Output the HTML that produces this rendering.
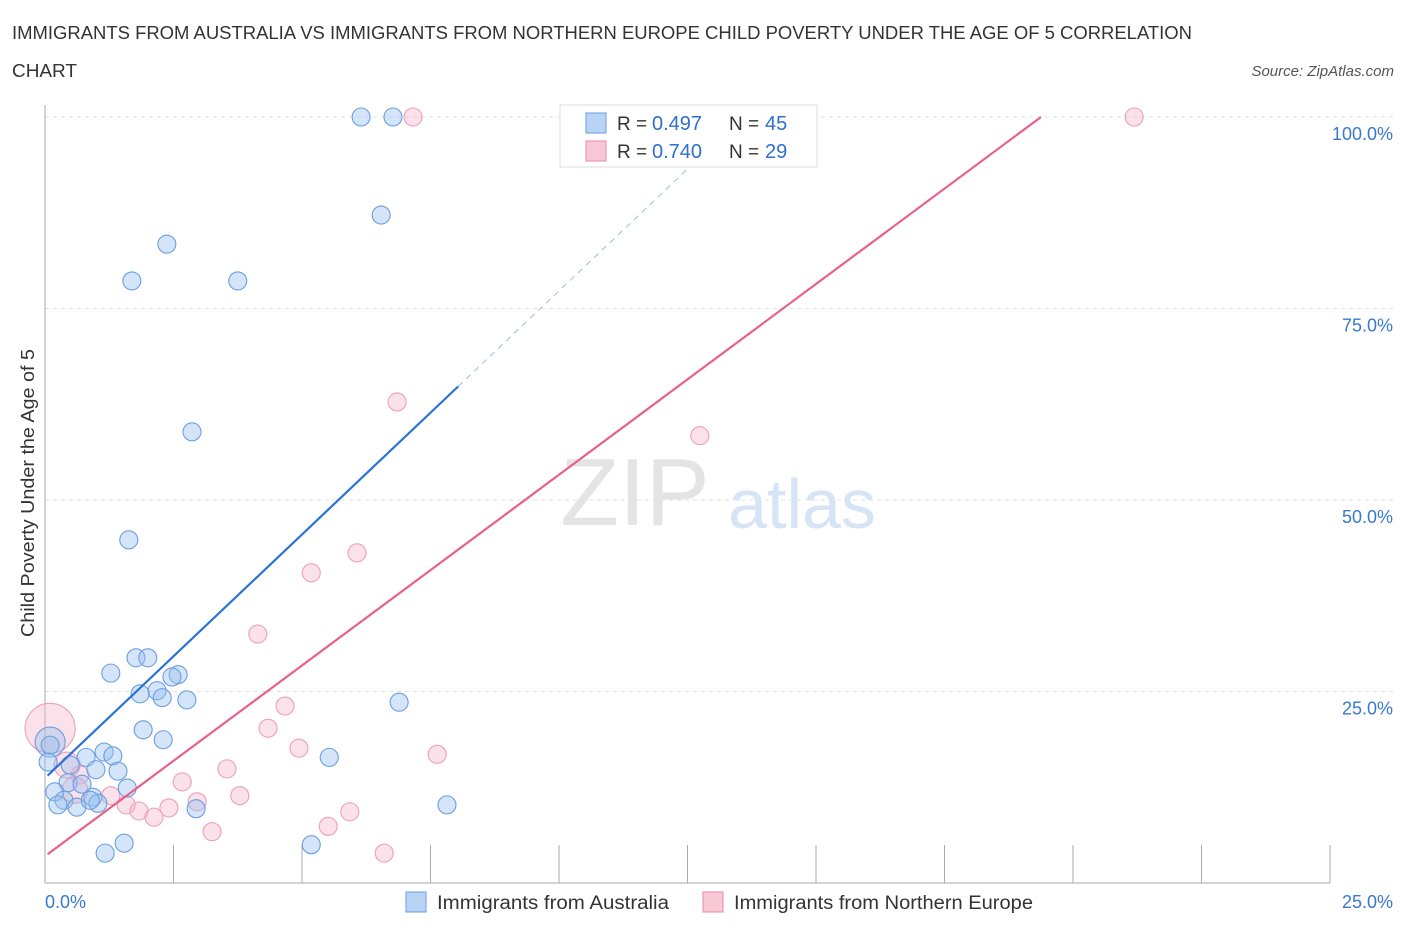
<!DOCTYPE html>
<html><head><meta charset="utf-8"><style>
body{margin:0;background:#fff;font-family:"Liberation Sans",sans-serif}
svg text{font-family:"Liberation Sans",sans-serif}
</style></head><body>
<svg id="chart" width="1406" height="930" viewBox="0 0 1406 930" xmlns="http://www.w3.org/2000/svg">
<text x="12" y="39" font-size="18" fill="#333" textLength="1180" lengthAdjust="spacingAndGlyphs">IMMIGRANTS FROM AUSTRALIA VS IMMIGRANTS FROM NORTHERN EUROPE CHILD POVERTY UNDER THE AGE OF 5 CORRELATION</text>
<text x="12" y="77" font-size="18" fill="#333" textLength="65" lengthAdjust="spacingAndGlyphs">CHART</text>
<text x="1394" y="76" font-size="15" fill="#555" font-style="italic" text-anchor="end">Source: ZipAtlas.com</text>
<g>
<text x="635" y="525" font-size="96" fill="#e4e4e4" font-family="Liberation Serif" text-anchor="middle">ZIP</text>
<text x="802" y="528" font-size="70" fill="#d6e4f5" text-anchor="middle">atlas</text>
</g>
<g id="grid"></g>
<g id="axes"></g>
<g id="marks"></g>
<text x="34" y="493" font-size="18" fill="#333" text-anchor="middle" transform="rotate(-90 34 493)" textLength="288" lengthAdjust="spacingAndGlyphs">Child Poverty Under the Age of 5</text>
<g>
<rect x="560" y="105" width="257" height="62" fill="#fff" stroke="#ddd"/>
<rect x="586" y="113" width="20" height="20" fill="#b9d3f5" stroke="#6b9de0"/>
<text x="617" y="130" font-size="19" fill="#333">R = </text>
<text x="652" y="130" font-size="20" fill="#2f6fd0">0.497</text>
<text x="729" y="130" font-size="19" fill="#333">N = </text>
<text x="765" y="130" font-size="20" fill="#2f6fd0">45</text>
<rect x="586" y="141" width="20" height="20" fill="#f8c8d6" stroke="#e88aa8"/>
<text x="617" y="158" font-size="19" fill="#333">R = </text>
<text x="652" y="158" font-size="20" fill="#2f6fd0">0.740</text>
<text x="729" y="158" font-size="19" fill="#333">N = </text>
<text x="765" y="158" font-size="20" fill="#2f6fd0">29</text>
</g>
<g>
<rect x="406" y="892" width="20" height="20" fill="#b9d3f5" stroke="#6b9de0"/>
<text x="437" y="909" font-size="19" fill="#333" textLength="232" lengthAdjust="spacingAndGlyphs">Immigrants from Australia</text>
<rect x="703" y="892" width="20" height="20" fill="#f8c8d6" stroke="#e88aa8"/>
<text x="734" y="909" font-size="19" fill="#333" textLength="299" lengthAdjust="spacingAndGlyphs">Immigrants from Northern Europe</text>
</g>
</svg>
<script>
const blueX=[6.15,6.77,6.54,2.37,1.69,3.75,2.86,1.63,1.28,1.77,2.00,2.59,2.47,2.18,1.85,2.28,2.76,6.89,1.91,2.30,0.10,0.06,1.15,1.32,0.80,5.53,0.49,0.99,1.42,0.45,0.72,0.19,1.60,0.93,0.37,1.03,7.82,0.25,0.62,0.88,2.94,5.18,1.54,1.17,0.10];
const blueY=[100,100,87.2,83.4,78.6,78.6,58.9,44.8,27.4,29.4,29.4,27.2,26.9,25.1,24.7,24.2,23.9,23.6,20.0,18.7,18.4,15.8,17.1,16.6,16.4,16.4,15.4,14.8,14.6,13.1,12.9,11.9,12.4,11.2,10.8,10.4,10.2,10.2,9.9,10.8,9.7,5.0,5.2,3.9,18.0];
const pinkX=[7.16,10.21,21.19,6.85,12.74,6.07,5.18,4.14,4.67,4.34,4.94,7.63,0.10,0.43,0.68,3.54,2.67,1.28,3.79,2.96,1.58,1.83,2.41,2.12,5.93,5.51,3.25,6.60,0.58];
const pinkY=[100,100,100,62.8,58.4,43.1,40.5,32.5,23.1,20.2,17.6,16.8,20.2,15.4,14.1,14.9,13.2,11.4,11.4,10.6,10.2,9.4,9.8,8.6,9.3,7.4,6.7,3.9,12.1];
const yTicks=[25,50,75,100];
const yTickLabels=["25.0%","50.0%","75.0%","100.0%"];
const xTicks=[0,2.5,5,7.5,10,12.5,15,17.5,20,22.5,25];
const blueTrend=[13.7,6.36];
const pinkTrend=[3.5,4.98];
const NS="http://www.w3.org/2000/svg";
const X=v=>45+v*51.4, Y=v=>883-v*7.66;
function mk(tag,attrs,parent){const e=document.createElementNS(NS,tag);for(const k in attrs)e.setAttribute(k,attrs[k]);parent.appendChild(e);return e;}
const grid=document.getElementById('grid'),axes=document.getElementById('axes'),marks=document.getElementById('marks');
yTicks.forEach((t,i)=>{
 const l=mk('line',{x1:45,x2:1395,y1:Y(t),y2:Y(t),stroke:'#e2e2e2','stroke-dasharray':'4,4'},grid);
 
 
 const tx=mk('text',{x:1393,y:Y(t)+23,'font-size':18,fill:'#3a78d0','text-anchor':'end'},axes);
 tx.textContent=yTickLabels[i];
 
 
});
const ya=mk('line',{x1:45,x2:45,y1:105,y2:883,stroke:'#aaa'},axes);


const xa=mk('line',{x1:45,x2:1330,y1:883,y2:883,stroke:'#aaa'},axes);


xTicks.forEach(t=>{const l=mk('line',{x1:X(t),x2:X(t),y1:845,y2:883,stroke:'#aaa'},axes);
 
 });
const xl0=mk('text',{x:45,y:908,'font-size':18,fill:'#3a78d0'},axes);xl0.textContent='0.0%';


const xl1=mk('text',{x:1393,y:908,'font-size':18,fill:'#3a78d0','text-anchor':'end'},axes);xl1.textContent='25.0%';


function dot(x,y,r,fill,stroke,name){const c=mk('circle',{cx:X(x),cy:Y(y),r:r,fill:fill,stroke:stroke,'stroke-width':1.1},marks);
 
 }
pinkX.forEach((x,i)=>dot(x,pinkY[i],i===12?25:(i===13||i===28?13:9),'rgba(246,180,200,0.4)','#eca0b8','point-northern-europe'));
blueX.forEach((x,i)=>dot(x,blueY[i],(i===20?15:9),'rgba(150,190,240,0.4)','#6a9ee2','point-australia'));
const bEnd=8.04,bMax=(100-blueTrend[0])/blueTrend[1];
const b1=mk('line',{x1:X(0.05),y1:Y(blueTrend[0]+blueTrend[1]*0.05),x2:X(bEnd),y2:Y(blueTrend[0]+blueTrend[1]*bEnd),stroke:'#2a72d6','stroke-width':2.2},marks);


const b2=mk('line',{x1:X(bEnd),y1:Y(blueTrend[0]+blueTrend[1]*bEnd),x2:X(bMax),y2:Y(100),stroke:'#9bbde8','stroke-width':1,'stroke-dasharray':'6,5'},marks);


const pMax=(100-pinkTrend[0])/pinkTrend[1];
const p1=mk('line',{x1:X(0.05),y1:Y(pinkTrend[0]+pinkTrend[1]*0.05),x2:X(pMax),y2:Y(100),stroke:'#e8608a','stroke-width':2.2},marks);


</script>
</body></html>
